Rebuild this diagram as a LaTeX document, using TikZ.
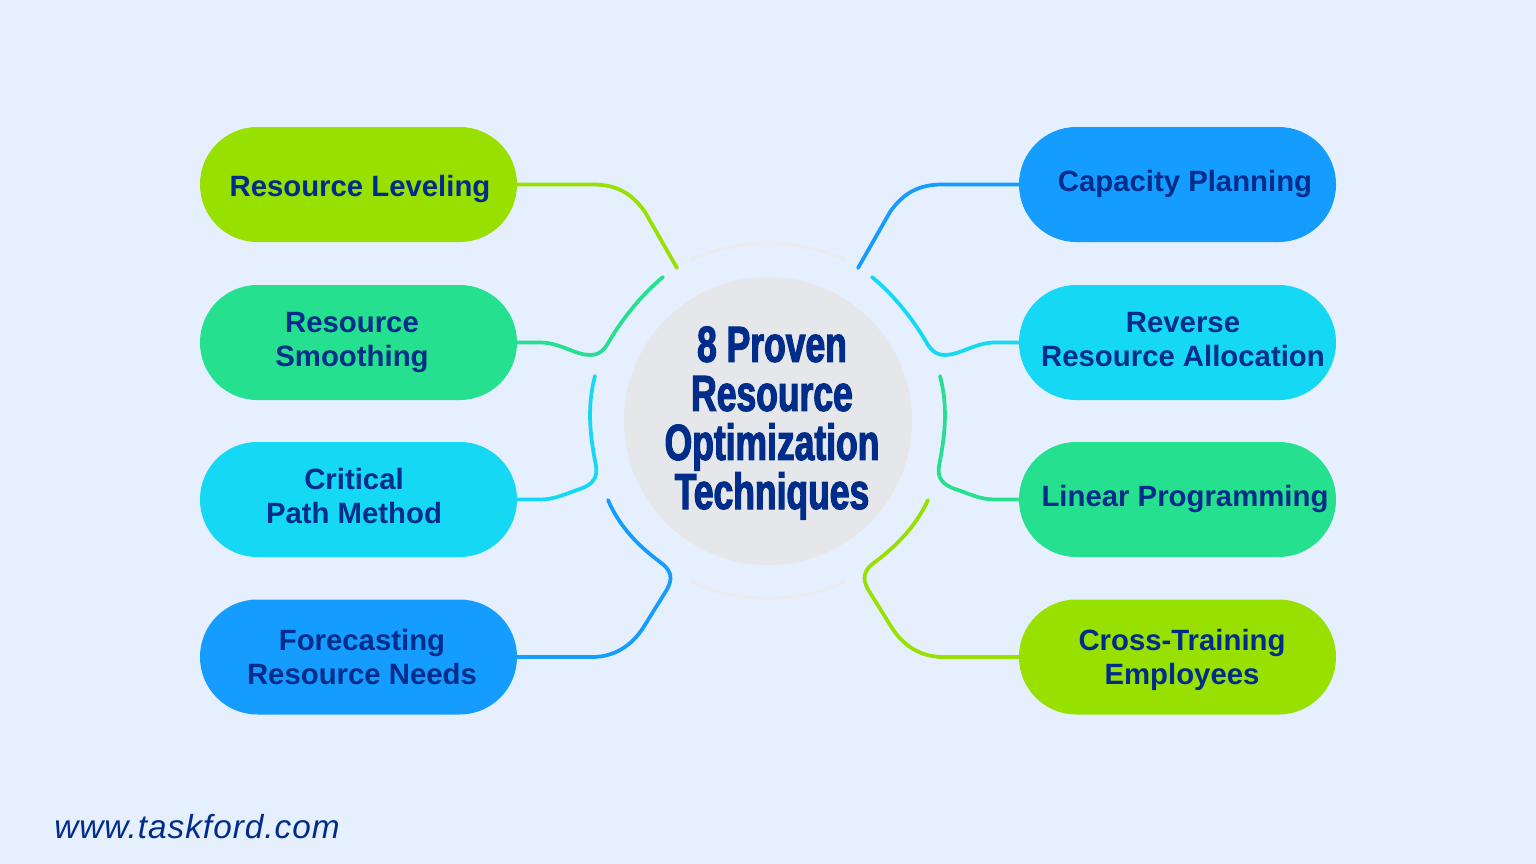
\documentclass[tikz,border=0pt]{standalone}
\usepackage{fontspec}
\setmainfont{Liberation Sans}
\newfontfamily\titlefont[FakeStretch=0.7,FakeBold=2.2]{Liberation Sans Bold}
\newfontfamily\urlfont[LetterSpace=3]{Liberation Sans}
\definecolor{pagebg}{HTML}{E6EFFD}
\definecolor{inkblue}{HTML}{002C8A}
\definecolor{limegreen}{HTML}{97E000}
\definecolor{seagreen}{HTML}{25E08F}
\definecolor{skycyan}{HTML}{15D8F5}
\definecolor{brightblue}{HTML}{149DFF}
\definecolor{hubgrey}{HTML}{E6E7EA}
\definecolor{ringgrey}{HTML}{E9EBEE}
\begin{document}
\begin{tikzpicture}[
  x=.75pt, y=-.75pt,
  pill/.style={draw=none, rounded corners=43pt, minimum width=237.75pt, minimum height=86.25pt, inner sep=0pt},
  pilltext/.style={text=inkblue, font=\bfseries\fontsize{22}{25.5}\selectfont, align=center, inner sep=0pt, anchor=base},
  link/.style={line width=2.8pt, line cap=round},
  ring/.style={draw=ringgrey, line width=2.4pt, line cap=round}
]
\fill[pagebg] (0,0) rectangle (1536,864);
\useasboundingbox (0,0) rectangle (1536,864);
% hub
\node[circle, fill=hubgrey, minimum size=216pt, inner sep=0pt] (hub) at (768,421) {};
\node[text=inkblue, font=\titlefont\fontsize{38}{36.8}\selectfont, align=center, inner sep=0pt, anchor=base] (hubtext) at (772,509)
  {8 Proven\\Resource\\Optimization\\Techniques};
\draw[ring] (691,260) .. controls (738,238) and (798,238) .. (845,260);
\draw[ring] (692,582) .. controls (738,604) and (798,604) .. (844,582);
% left pills
\node[pill, fill=limegreen] (leveling) at (358.5,184.5) {};
\node[pill, fill=seagreen] (smoothing) at (358.5,342.5) {};
\node[pill, fill=skycyan] (critical) at (358.5,499.5) {};
\node[pill, fill=brightblue] (forecasting) at (358.5,657) {};
\node[pilltext] (levelingtext) at (360,196) {Resource Leveling};
\node[pilltext] (smoothingtext) at (352,366) {Resource\\Smoothing};
\node[pilltext] (criticaltext) at (354,523) {Critical\\Path Method};
\node[pilltext] (forecastingtext) at (362,684) {Forecasting\\Resource Needs};
% right pills
\node[pill, fill=brightblue] (capacity) at (1177.5,184.5) {};
\node[pill, fill=skycyan] (reverse) at (1177.5,342.5) {};
\node[pill, fill=seagreen] (linear) at (1177.5,499.5) {};
\node[pill, fill=limegreen] (cross) at (1177.5,657) {};
\node[pilltext] (capacitytext) at (1185,191) {Capacity Planning};
\node[pilltext] (reversetext) at (1183,366) {Reverse\\Resource Allocation};
\node[pilltext] (lineartext) at (1185,506) {Linear Programming};
\node[pilltext] (crosstext) at (1182,684) {Cross-Training\\Employees};
% free ends
\coordinate (endleveling) at (677,268);
\coordinate (endsmoothing) at (663,277);
\coordinate (endcritical) at (595,376);
\coordinate (endforecasting) at (608,500);
\coordinate (endcapacity) at (858,268);
\coordinate (endreverse) at (872,277);
\coordinate (endlinear) at (940,376);
\coordinate (endcross) at (928,500);
% connectors
\draw[link, limegreen] (leveling.east) -- (593,184.5) .. controls (615,184.5) and (631,192) .. (645,212) -- (endleveling);
\draw[link, seagreen] (smoothing.east) -- (540,342.5) .. controls (560,342.5) and (575,355) .. (590,355) .. controls (600,355) and (604,349) .. (607,345) .. controls (620,322) and (640,296) .. (endsmoothing);
\draw[link, skycyan] (critical.east) -- (540,499.5) .. controls (555,499.5) and (565,494) .. (580,489) .. controls (592,485) and (598,478) .. (596,466) .. controls (591,440) and (586,410) .. (endcritical);
\draw[link, brightblue] (forecasting.east) -- (592,657) .. controls (615,657) and (632,645) .. (643,628) -- (666,591) .. controls (674,578) and (671,570) .. (660,562) .. controls (640,547) and (620,528) .. (endforecasting);
\draw[link, brightblue] (capacity.west) -- (942,184.5) .. controls (920,184.5) and (904,192) .. (890,212) -- (endcapacity);
\draw[link, skycyan] (reverse.west) -- (995,342.5) .. controls (975,342.5) and (960,355) .. (945,355) .. controls (935,355) and (931,349) .. (928,345) .. controls (915,322) and (895,296) .. (endreverse);
\draw[link, seagreen] (linear.west) -- (995,499.5) .. controls (980,499.5) and (970,494) .. (955,489) .. controls (943,485) and (937,478) .. (939,466) .. controls (944,440) and (949,410) .. (endlinear);
\draw[link, limegreen] (cross.west) -- (943,657) .. controls (920,657) and (903,645) .. (892,628) -- (869,591) .. controls (861,578) and (864,570) .. (875,562) .. controls (895,547) and (915,528) .. (endcross);
% url
\node[anchor=base west, text=inkblue, font=\urlfont\itshape\fontsize{25}{28}\selectfont, inner sep=0pt] (url) at (54,838) {www.taskford.com};
\end{tikzpicture}
\end{document}
